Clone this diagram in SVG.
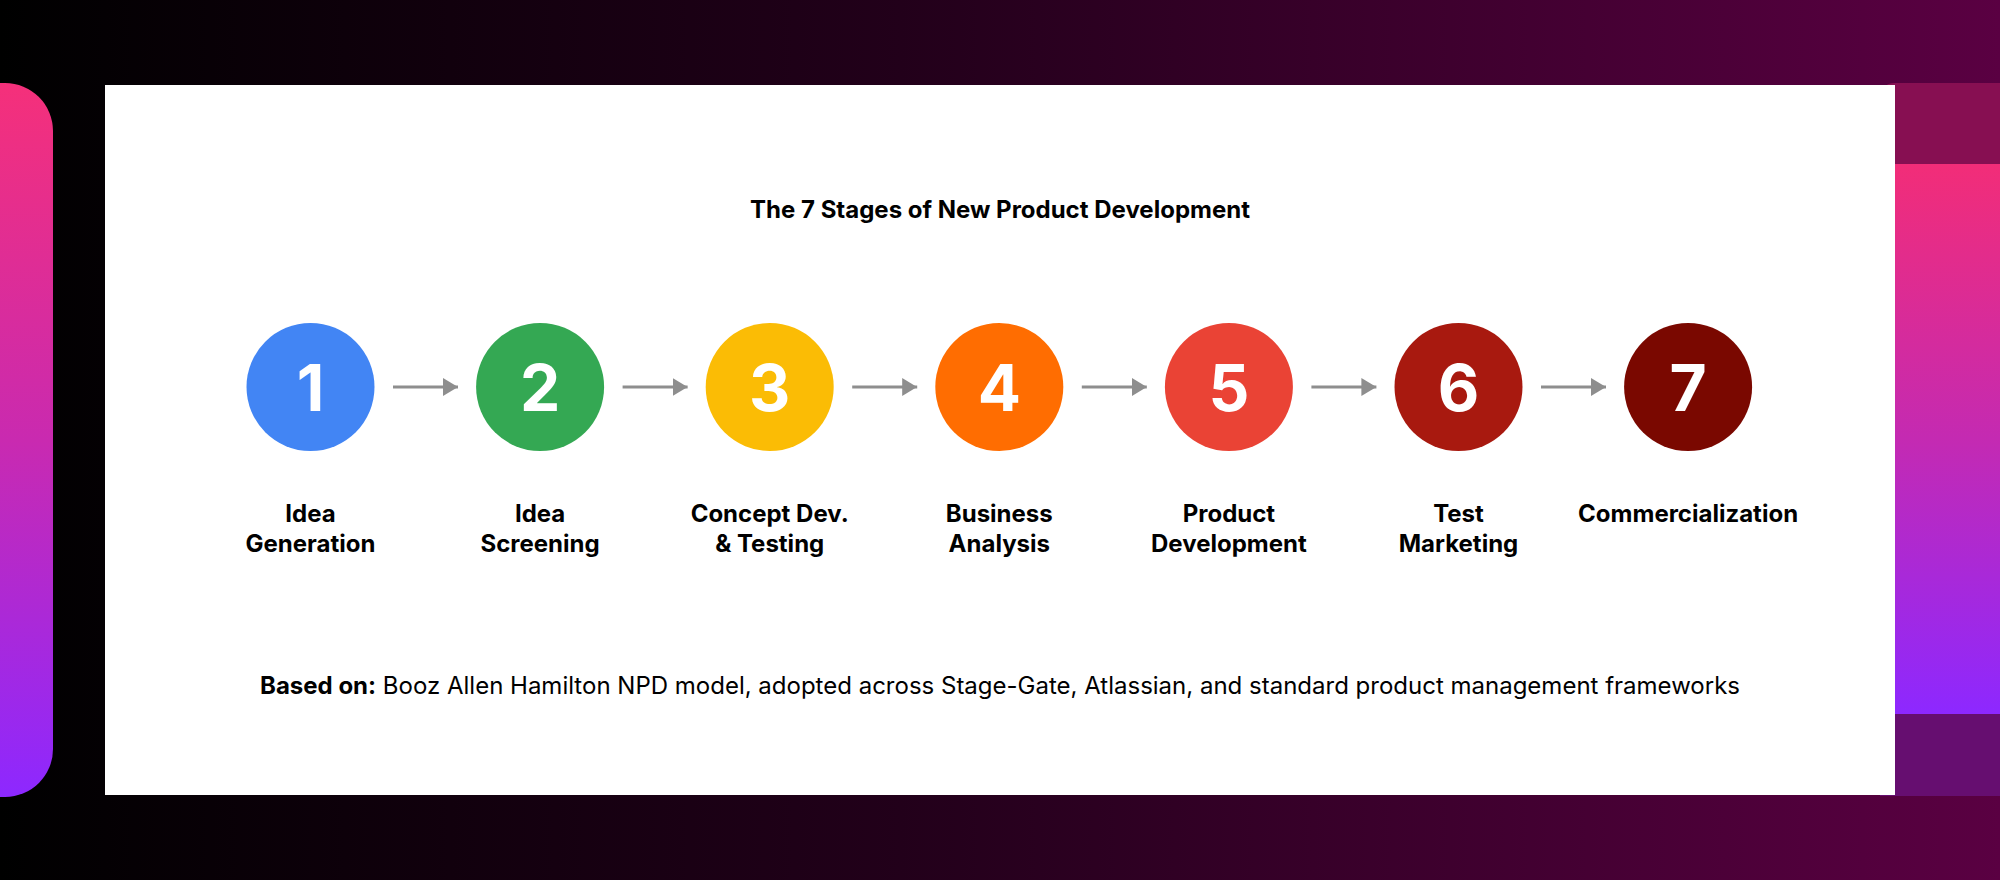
<svg xmlns="http://www.w3.org/2000/svg" width="2000" height="880" viewBox="0 0 2000 880">
  <defs>
    <linearGradient id="bg" x1="0" y1="0" x2="1" y2="0">
      <stop offset="0" stop-color="#000000"/>
      <stop offset="0.45" stop-color="#22001a"/>
      <stop offset="1" stop-color="#5a0042"/>
    </linearGradient>
    <linearGradient id="side" x1="0" y1="0" x2="0" y2="1">
      <stop offset="0" stop-color="#f5307a"/>
      <stop offset="0.5" stop-color="#c92ab0"/>
      <stop offset="1" stop-color="#8d28ff"/>
    </linearGradient>
    <linearGradient id="side2" x1="0" y1="0" x2="0" y2="1">
      <stop offset="0" stop-color="#f22d78"/>
      <stop offset="0.5" stop-color="#c42ab2"/>
      <stop offset="1" stop-color="#8d28ff"/>
    </linearGradient>
    <marker id="arrow" viewBox="0 0 15 18" refX="15" refY="9" markerWidth="15" markerHeight="18" markerUnits="userSpaceOnUse" orient="auto">
      <path d="M0,0 L15,9 L0,18 Z" fill="#8e8e8e"/>
    </marker>
  </defs>
  <style>
    .num { font-family: Inter, "Liberation Sans", sans-serif; font-weight: 700; font-size: 64px; fill: #ffffff; text-anchor: middle; }
    .lbl { font-family: Inter, "Liberation Sans", sans-serif; font-weight: 700; font-size: 24px; fill: #000000; text-anchor: middle; }
    .title { font-family: Inter, "Liberation Sans", sans-serif; font-weight: 700; font-size: 24px; fill: #000000; text-anchor: middle; }
    .foot { font-family: Inter, "Liberation Sans", sans-serif; font-weight: 400; font-size: 24px; fill: #000000; text-anchor: middle; }
    .conn { stroke: #8e8e8e; stroke-width: 3; fill: none; }
  </style>

  <rect x="0" y="0" width="2000" height="880" fill="url(#bg)"/>

  <!-- left side panel -->
  <rect x="-60" y="83" width="113" height="714" rx="48" ry="48" fill="url(#side)"/>

  <!-- right side panel -->
  <g id="right-panel">
    <rect x="1880" y="83" width="160" height="713" rx="14" fill="#870f52"/>
    <rect x="1880" y="164" width="160" height="550" fill="url(#side2)"/>
    <rect x="1880" y="714" width="160" height="82" fill="#660e70"/>
  </g>

  <!-- card -->
  <rect id="card" x="105" y="85" width="1790" height="710" fill="#ffffff"/>

  <text id="title" class="title" x="1000" y="218">The 7 Stages of New Product Development</text>

  <g id="connectors">
    <line class="conn" x1="393" y1="387" x2="458" y2="387" marker-end="url(#arrow)"/>
    <line class="conn" x1="622.6" y1="387" x2="687.6" y2="387" marker-end="url(#arrow)"/>
    <line class="conn" x1="852.2" y1="387" x2="917.2" y2="387" marker-end="url(#arrow)"/>
    <line class="conn" x1="1081.8" y1="387" x2="1146.8" y2="387" marker-end="url(#arrow)"/>
    <line class="conn" x1="1311.4" y1="387" x2="1376.4" y2="387" marker-end="url(#arrow)"/>
    <line class="conn" x1="1541" y1="387" x2="1606" y2="387" marker-end="url(#arrow)"/>
  </g>

  <g id="stage1">
    <circle cx="310.5" cy="387" r="64" fill="#4285f4"/>
    <text class="num" x="310.5" y="411">1</text>
    <text class="lbl" x="310.5" y="522">Idea</text>
    <text class="lbl" x="310.5" y="552">Generation</text>
  </g>
  <g id="stage2">
    <circle cx="540.1" cy="387" r="64" fill="#34a853"/>
    <text class="num" x="540.1" y="411">2</text>
    <text class="lbl" x="540.1" y="522">Idea</text>
    <text class="lbl" x="540.1" y="552">Screening</text>
  </g>
  <g id="stage3">
    <circle cx="769.7" cy="387" r="64" fill="#fbbc05"/>
    <text class="num" x="769.7" y="411">3</text>
    <text class="lbl" x="769.7" y="522">Concept Dev.</text>
    <text class="lbl" x="769.7" y="552">&amp; Testing</text>
  </g>
  <g id="stage4">
    <circle cx="999.3" cy="387" r="64" fill="#ff6d01"/>
    <text class="num" x="999.3" y="411">4</text>
    <text class="lbl" x="999.3" y="522">Business</text>
    <text class="lbl" x="999.3" y="552">Analysis</text>
  </g>
  <g id="stage5">
    <circle cx="1228.9" cy="387" r="64" fill="#ea4335"/>
    <text class="num" x="1228.9" y="411">5</text>
    <text class="lbl" x="1228.9" y="522">Product</text>
    <text class="lbl" x="1228.9" y="552">Development</text>
  </g>
  <g id="stage6">
    <circle cx="1458.5" cy="387" r="64" fill="#a8190f"/>
    <text class="num" x="1458.5" y="411">6</text>
    <text class="lbl" x="1458.5" y="522">Test</text>
    <text class="lbl" x="1458.5" y="552">Marketing</text>
  </g>
  <g id="stage7">
    <circle cx="1688.1" cy="387" r="64" fill="#7a0800"/>
    <text class="num" x="1688.1" y="411">7</text>
    <text class="lbl" x="1688.1" y="522">Commercialization</text>
  </g>

  <text id="footer" class="foot" x="1000" y="694"><tspan font-weight="700">Based on:</tspan> Booz Allen Hamilton NPD model, adopted across Stage-Gate, Atlassian, and standard product management frameworks</text>
</svg>
